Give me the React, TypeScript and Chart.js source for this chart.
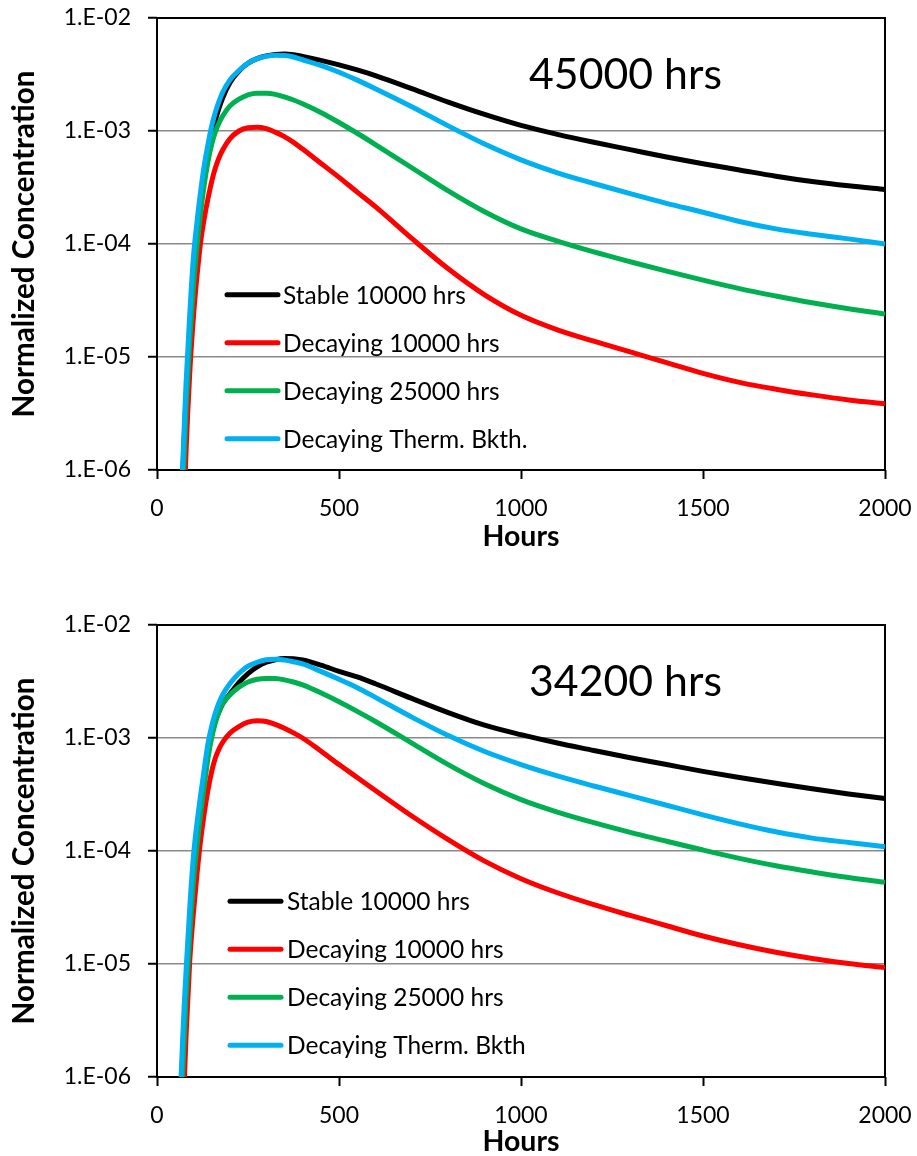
import React, { useEffect, useRef } from 'react';
import { Chart, registerables } from 'chart.js';

Chart.register(...registerables);

// ---------- data ----------
const hours = [65, 70, 75, 80, 90, 100, 110, 120, 130, 140, 150, 160, 170, 180, 200, 225, 250, 275, 300, 325, 350, 375, 400, 450, 500, 550, 600, 700, 800, 900, 1000, 1100, 1200, 1300, 1400, 1500, 1600, 1700, 1800, 1900, 2000];

// 45000 hrs panel
const stable45 = [3.16e-7, 7.94e-7, 2.0e-6, 4.47e-6, 1.66e-5, 5.01e-5, 1.12e-4, 2.19e-4, 3.89e-4, 6.31e-4, 9.12e-4, 1.23e-3, 1.58e-3, 1.95e-3, 2.66e-3, 3.39e-3, 3.98e-3, 4.37e-3, 4.62e-3, 4.76e-3, 4.8e-3, 4.73e-3, 4.57e-3, 4.22e-3, 3.85e-3, 3.47e-3, 3.09e-3, 2.37e-3, 1.8e-3, 1.4e-3, 1.12e-3, 9.33e-4, 7.94e-4, 6.84e-4, 5.89e-4, 5.13e-4, 4.52e-4, 3.98e-4, 3.57e-4, 3.27e-4, 3.04e-4];
const decay10k45 = [5.0e-8, 1.58e-7, 5.01e-7, 1.51e-6, 7.24e-6, 2.24e-5, 5.25e-5, 1.05e-4, 1.7e-4, 2.51e-4, 3.55e-4, 4.68e-4, 5.75e-4, 6.76e-4, 8.51e-4, 1.0e-3, 1.07e-3, 1.08e-3, 1.05e-3, 9.77e-4, 8.91e-4, 7.94e-4, 6.92e-4, 5.19e-4, 3.89e-4, 2.88e-4, 2.14e-4, 1.12e-4, 6.03e-5, 3.55e-5, 2.34e-5, 1.74e-5, 1.38e-5, 1.11e-5, 8.91e-6, 7.16e-6, 5.96e-6, 5.19e-6, 4.62e-6, 4.17e-6, 3.85e-6];
const decay25k45 = [1.58e-7, 5.01e-7, 1.41e-6, 3.55e-6, 1.41e-5, 4.17e-5, 9.55e-5, 1.91e-4, 3.39e-4, 5.37e-4, 7.59e-4, 9.77e-4, 1.17e-3, 1.35e-3, 1.66e-3, 1.91e-3, 2.09e-3, 2.16e-3, 2.16e-3, 2.11e-3, 2.0e-3, 1.88e-3, 1.74e-3, 1.46e-3, 1.19e-3, 9.55e-4, 7.59e-4, 4.73e-4, 2.95e-4, 1.93e-4, 1.36e-4, 1.06e-4, 8.51e-5, 6.97e-5, 5.75e-5, 4.79e-5, 4.03e-5, 3.47e-5, 3.02e-5, 2.67e-5, 2.4e-5];
const therm45 = [3.98e-7, 1.0e-6, 2.51e-6, 6.03e-6, 2.4e-5, 7.59e-5, 1.58e-4, 2.95e-4, 5.01e-4, 7.59e-4, 1.1e-3, 1.45e-3, 1.82e-3, 2.19e-3, 2.82e-3, 3.43e-3, 3.98e-3, 4.37e-3, 4.59e-3, 4.68e-3, 4.65e-3, 4.52e-3, 4.27e-3, 3.8e-3, 3.31e-3, 2.82e-3, 2.37e-3, 1.64e-3, 1.11e-3, 7.67e-4, 5.56e-4, 4.27e-4, 3.43e-4, 2.79e-4, 2.29e-4, 1.91e-4, 1.58e-4, 1.36e-4, 1.22e-4, 1.11e-4, 1.0e-4];

// 34200 hrs panel
const stable34 = [5.01e-7, 1.41e-6, 3.16e-6, 6.31e-6, 2.24e-5, 6.31e-5, 1.41e-4, 2.69e-4, 4.57e-4, 7.24e-4, 1.05e-3, 1.41e-3, 1.7e-3, 2.0e-3, 2.45e-3, 3.09e-3, 3.72e-3, 4.27e-3, 4.68e-3, 4.93e-3, 5.05e-3, 5.04e-3, 4.9e-3, 4.42e-3, 3.89e-3, 3.47e-3, 3.02e-3, 2.24e-3, 1.68e-3, 1.3e-3, 1.07e-3, 9.02e-4, 7.76e-4, 6.68e-4, 5.82e-4, 5.07e-4, 4.47e-4, 3.98e-4, 3.55e-4, 3.2e-4, 2.92e-4];
const decay10k34 = [1.0e-7, 3.16e-7, 8.91e-7, 2.4e-6, 1.07e-5, 2.82e-5, 6.31e-5, 1.26e-4, 2.19e-4, 3.47e-4, 5.01e-4, 6.61e-4, 7.94e-4, 9.12e-4, 1.1e-3, 1.26e-3, 1.38e-3, 1.42e-3, 1.4e-3, 1.32e-3, 1.22e-3, 1.11e-3, 1.0e-3, 7.67e-4, 5.82e-4, 4.47e-4, 3.43e-4, 2.04e-4, 1.26e-4, 8.13e-5, 5.69e-5, 4.27e-5, 3.35e-5, 2.69e-5, 2.18e-5, 1.77e-5, 1.48e-5, 1.27e-5, 1.12e-5, 1.01e-5, 9.29e-6];
const decay25k34 = [3.98e-7, 1.0e-6, 2.24e-6, 5.01e-6, 1.78e-5, 5.25e-5, 1.12e-4, 2.14e-4, 3.8e-4, 6.61e-4, 1.0e-3, 1.35e-3, 1.7e-3, 2.0e-3, 2.4e-3, 2.82e-3, 3.13e-3, 3.31e-3, 3.37e-3, 3.36e-3, 3.27e-3, 3.13e-3, 2.95e-3, 2.51e-3, 2.09e-3, 1.72e-3, 1.4e-3, 9.02e-4, 5.82e-4, 3.94e-4, 2.85e-4, 2.21e-4, 1.78e-4, 1.46e-4, 1.22e-4, 1.02e-4, 8.61e-5, 7.41e-5, 6.53e-5, 5.82e-5, 5.28e-5];
const therm34 = [7.94e-7, 2.0e-6, 4.47e-6, 8.91e-6, 3.16e-5, 8.91e-5, 1.78e-4, 3.16e-4, 5.37e-4, 8.91e-4, 1.26e-3, 1.66e-3, 2.04e-3, 2.4e-3, 3.02e-3, 3.72e-3, 4.32e-3, 4.68e-3, 4.92e-3, 4.97e-3, 4.9e-3, 4.73e-3, 4.52e-3, 3.89e-3, 3.31e-3, 2.79e-3, 2.29e-3, 1.53e-3, 1.05e-3, 7.59e-4, 5.82e-4, 4.62e-4, 3.76e-4, 3.09e-4, 2.54e-4, 2.09e-4, 1.74e-4, 1.48e-4, 1.3e-4, 1.19e-4, 1.09e-4];

const labels45 = ['Stable 10000 hrs', 'Decaying 10000 hrs', 'Decaying 25000 hrs', 'Decaying Therm. Bkth.'];
const labels34 = ['Stable 10000 hrs', 'Decaying 10000 hrs', 'Decaying 25000 hrs', 'Decaying Therm. Bkth'];
const seriesColors = ['#000000', '#FF0000', '#00B050', '#00B0F0'];

const xTickValues = [0, 500, 1000, 1500, 2000];
const xTickLabels = ['0', '500', '1000', '1500', '2000'];
const yTickValues = [1e-6, 1e-5, 1e-4, 1e-3, 1e-2];
const yTickLabels = ['1.E-06', '1.E-05', '1.E-04', '1.E-03', '1.E-02'];
const yAxisTitle = 'Normalized Concentration';
const xAxisTitle = 'Hours';

const FONT = 'Lato, "Open Sans", sans-serif';

type PanelCfg = {
  annotation: string;
  labels: string[];
  series: number[][];
  padTop: number;
  xAxisHeight: number;
  legendLineX0: number;
  legendLineX1: number;
  legendTextX: number;
  legendY0: number;
  xTitleOffset: number;
};

function fitFont(ctx: CanvasRenderingContext2D, text: string, weight: string, base: number, target: number) {
  ctx.font = `${weight} ${base}px ${FONT}`;
  const w = ctx.measureText(text).width;
  const size = (base * target) / w;
  ctx.font = `${weight} ${size}px ${FONT}`;
}

function makeDecor(cfg: PanelCfg) {
  return {
    id: 'decor',
    beforeDatasetsDraw(chart: any) {
      const { ctx, chartArea: a } = chart;
      ctx.save();
      ctx.strokeStyle = '#000';
      ctx.lineWidth = 2;
      ctx.strokeRect(a.left, a.top, a.right - a.left, a.bottom - a.top);
      ctx.restore();
    },
    afterDatasetsDraw(chart: any) {
      const { ctx, chartArea: a } = chart;
      ctx.save();
      // legend
      ctx.textAlign = 'left';
      ctx.textBaseline = 'middle';
      cfg.labels.forEach((lab, i) => {
        const y = a.top + cfg.legendY0 + i * 48;
        ctx.strokeStyle = seriesColors[i];
        ctx.lineWidth = 5;
        ctx.lineCap = 'round';
        ctx.beginPath();
        ctx.moveTo(cfg.legendLineX0, y);
        ctx.lineTo(cfg.legendLineX1, y);
        ctx.stroke();
        ctx.fillStyle = '#000';
        ctx.font = `24.5px ${FONT}`;
        ctx.fillText(lab, cfg.legendTextX, y + 1);
      });
      // annotation
      ctx.textAlign = 'center';
      ctx.textBaseline = 'alphabetic';
      ctx.fillStyle = '#000';
      fitFont(ctx, cfg.annotation, 'normal', 42, 193);
      ctx.fillText(cfg.annotation, a.left + 468.5, a.top + 71);
      // x title
      fitFont(ctx, xAxisTitle, 'bold', 27, 77);
      ctx.fillText(xAxisTitle, (a.left + a.right) / 2, a.bottom + cfg.xTitleOffset);
      // y title
      ctx.translate(34, (a.top + a.bottom) / 2);
      ctx.rotate(-Math.PI / 2);
      fitFont(ctx, yAxisTitle, 'bold', 26, 347);
      ctx.fillText(yAxisTitle, 0, 0);
      ctx.restore();
    },
  };
}

function zeroPad(s: any) {
  s.paddingTop = 0;
  s.paddingBottom = 0;
  s.paddingLeft = 0;
  s.paddingRight = 0;
}

function Panel({ cfg, top }: { cfg: PanelCfg; top: number }) {
  const ref = useRef<HTMLCanvasElement>(null);
  useEffect(() => {
    if (!ref.current) return;
    const order = [3, 2, 1, 0];
    const chart = new Chart(ref.current, {
      type: 'line',
      data: {
        datasets: cfg.series.map((vals, i) => ({
          label: cfg.labels[i],
          data: hours.map((h, j) => ({ x: h, y: vals[j] })),
          borderColor: seriesColors[i],
          backgroundColor: seriesColors[i],
          borderWidth: 5,
          pointRadius: 0,
          fill: false,
          cubicInterpolationMode: 'monotone',
          order: order[i],
          clip: { left: 0, top: 0, right: 3, bottom: 0 },
        })),
      },
      options: {
        animation: false,
        responsive: false,
        devicePixelRatio: 1,
        layout: { padding: { left: 0, right: 32, top: cfg.padTop, bottom: 0 } },
        plugins: {
          legend: { display: false },
          tooltip: { enabled: false },
        },
        scales: {
          x: {
            type: 'linear',
            min: 0,
            max: 2000,
            afterBuildTicks: (s: any) => {
              s.ticks = xTickValues.map((v) => ({ value: v }));
            },
            afterFit: (s: any) => {
              s.height = cfg.xAxisHeight;
              zeroPad(s);
            },
            grid: {
              drawOnChartArea: false,
              drawTicks: true,
              tickLength: 9,
              tickColor: '#000',
              tickWidth: 2,
            },
            border: { display: false },
            ticks: {
              color: '#000',
              font: { size: 23, family: FONT },
              padding: 16,
              maxRotation: 0,
              autoSkip: false,
              callback: (_v: any, i: number) => xTickLabels[i],
            },
          },
          y: {
            type: 'logarithmic',
            min: 1e-6,
            max: 1e-2,
            afterBuildTicks: (s: any) => {
              s.ticks = yTickValues.map((v) => ({ value: v }));
            },
            afterFit: (s: any) => {
              s.width = 157;
              zeroPad(s);
            },
            grid: {
              color: '#8a8a8a',
              lineWidth: 1.5,
              drawTicks: true,
              tickLength: 9,
              tickColor: '#000',
              tickWidth: 2,
            },
            border: { display: false },
            ticks: {
              color: '#000',
              font: { size: 23, family: FONT },
              padding: 17,
              autoSkip: false,
              callback: (_v: any, i: number) => yTickLabels[i],
            },
          },
        },
      } as any,
      plugins: [makeDecor(cfg)],
    });
    return () => chart.destroy();
  }, [cfg]);
  return (
    <canvas
      ref={ref}
      width={917}
      height={578}
      style={{ position: 'absolute', left: 0, top, width: 917, height: 578 }}
    />
  );
}

const cfg45: PanelCfg = {
  annotation: '45000 hrs',
  labels: labels45,
  series: [stable45, decay10k45, decay25k45, therm45],
  padTop: 18,
  xAxisHeight: 108,
  legendLineX0: 227,
  legendLineX1: 278,
  legendTextX: 283,
  legendY0: 276.7,
  xTitleOffset: 76,
};

const cfg34: PanelCfg = {
  annotation: '34200 hrs',
  labels: labels34,
  series: [stable34, decay10k34, decay25k34, therm34],
  padTop: 47,
  xAxisHeight: 79,
  legendLineX0: 230,
  legendLineX1: 281,
  legendTextX: 287,
  legendY0: 276.3,
  xTitleOffset: 74,
};

export default function App() {
  return (
    <div style={{ position: 'absolute', left: 0, top: 0, width: 917, height: 1156, background: '#fff' }}>
      <Panel cfg={cfg45} top={0} />
      <Panel cfg={cfg34} top={578} />
    </div>
  );
}
